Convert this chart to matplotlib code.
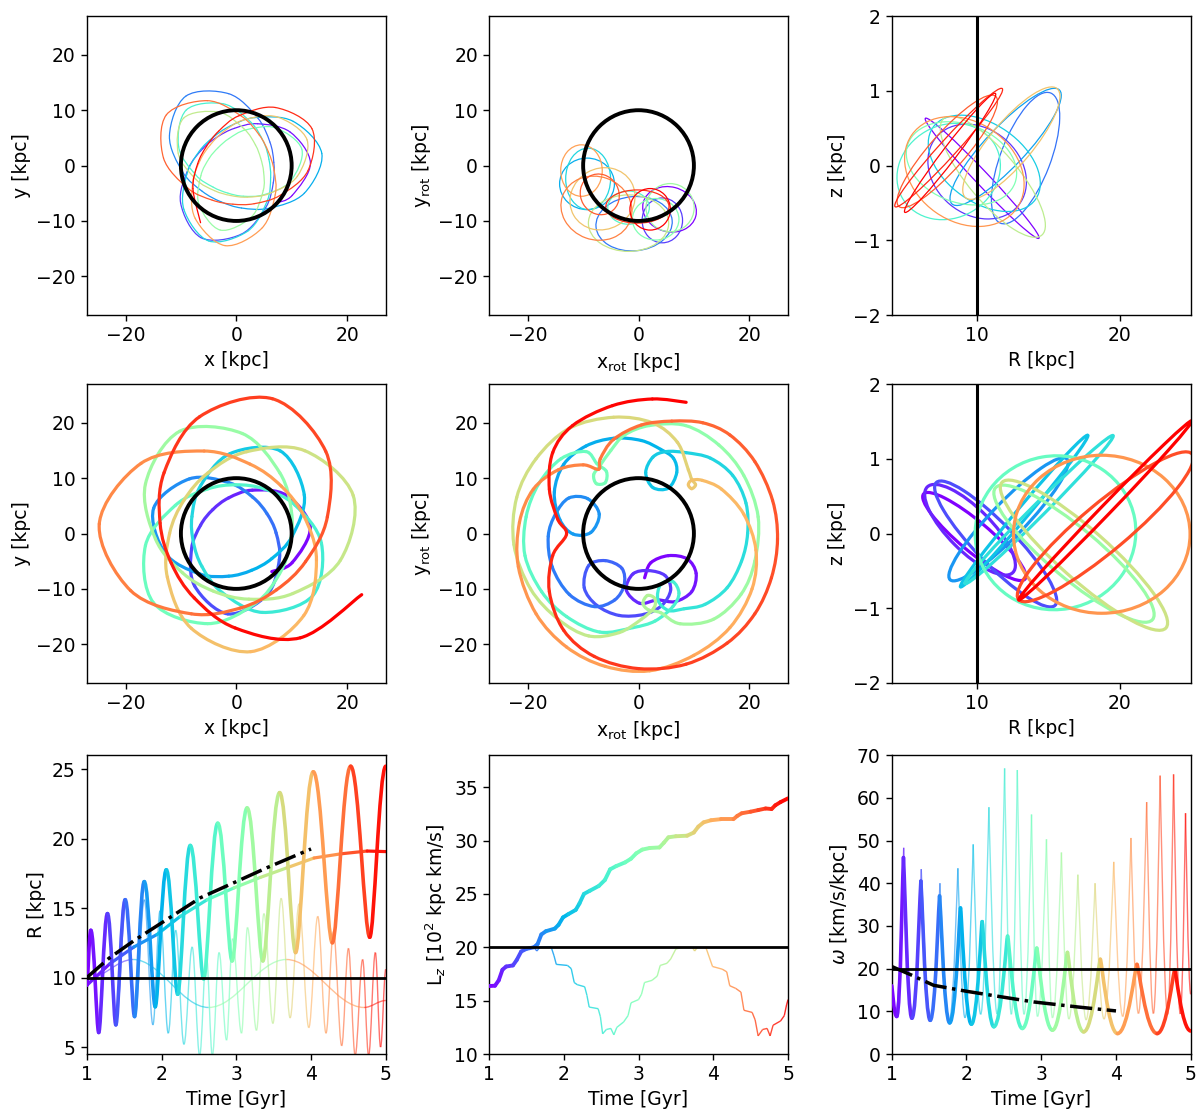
import numpy as np
import matplotlib
matplotlib.use("Agg")
import matplotlib.pyplot as plt
from matplotlib.path import Path
from matplotlib.patches import PathPatch, Ellipse, Circle
from matplotlib.collections import LineCollection
from matplotlib.transforms import Affine2D

plt.rcParams["font.family"] = "DejaVu Sans"
plt.rcParams["font.size"] = 13.5
plt.rcParams["axes.linewidth"] = 1.0
plt.rcParams["xtick.major.width"] = 1.0
plt.rcParams["ytick.major.width"] = 1.0
plt.rcParams["xtick.major.size"] = 4.5
plt.rcParams["ytick.major.size"] = 4.5

CMAP = plt.get_cmap("rainbow")

R_CR = 10.0     # corotation radius [kpc]
LZ_CR = 20.0    # [10^2 kpc km/s]
OMEGA_P = 20.0  # pattern speed [km/s/kpc]

# ---- thin orbit, inertial frame (angle [deg], R [kpc]) ----
thin_phi = [-44, -28,
            2, 32, 63, 93, 123, 153, 184, 214, 244, 274, 305, 335, 365, 395, 426, 456,
            486, 516, 547, 577, 607, 637, 668, 698, 728, 758, 789, 819, 849, 879, 910, 940,
            970, 1000, 1031, 1061, 1091, 1121, 1152, 1182, 1212, 1242, 1273, 1303,
            1333, 1363, 1394, 1424, 1454, 1484, 1515, 1545, 1575, 1605, 1636, 1666,
            1696, 1726, 1757, 1787, 1817, 1847, 1878, 1908, 1938, 1968, 1999, 2029,
            2059, 2089, 2120, 2150, 2180, 2210, 2241, 2271, 2301, 2331, 2362, 2392,
            2422, 2452, 2483, 2513, 2543, 2573, 2604, 2634, 2664, 2694, 2725, 2755,
            2785, 2815, 2846, 2876, 2906, 2936, 2967, 2997, 3027, 3057, 3088, 3118]
thin_rad = [9.8, 11.45,
            13.4, 11.45, 8.48, 6.73, 6.2, 6.77, 8.69, 12.12, 14.5, 12.44, 9.26, 7.37,
            6.8, 7.41, 9.45, 13.05, 15.5, 13.21, 9.74, 7.71, 7.1, 7.72, 9.76, 13.27,
            15.6, 13.0, 9.28, 7.21, 6.6, 7.17, 9.07, 12.34, 14.5, 12.01, 8.49, 6.56,
            6.0, 6.53, 8.31, 11.41, 13.5, 10.94, 7.51, 5.71, 5.2, 5.68, 7.29, 10.19,
            12.2, 9.82, 6.68, 5.06, 4.6, 5.06, 6.65, 9.71, 12.0, 9.71, 6.65, 5.06,
            4.6, 5.08, 6.77, 10.15, 12.8, 10.72, 7.69, 6.0, 5.5, 6.03, 7.83, 11.19,
            13.6, 11.47, 8.33, 6.53, 6.0, 6.57, 8.5, 12.07, 14.6, 12.24, 8.8, 6.87,
            6.3, 6.9, 8.97, 12.83, 15.6, 13.22, 9.66, 7.61, 7.0, 7.6, 9.59, 12.98,
            15.2, 12.65, 9.01, 6.99, 6.4, 6.97, 8.86, 12.17]

# ---- thick orbit, inertial frame ----
thick_phi = [-47, -27.4,
             5, 37.4, 69.8, 102.1, 134.5, 166.9, 199.3, 231.6, 264, 296.4, 328.8, 361.1,
             393.5, 425.9, 458.3, 490.6, 523, 555.4, 587.8, 620.1, 652.5, 684.9, 717.3,
             749.6, 782, 814.4, 846.8, 879.1, 911.5, 943.9, 976.3, 1008.6, 1041, 1073.4,
             1105.8, 1138.1, 1170.5, 1202.9, 1235.3, 1267.6, 1300, 1332.4, 1364.8, 1397.1,
             1429.5, 1461.9, 1494.3, 1526.6, 1559, 1591.4, 1623.8, 1656.1, 1688.5, 1720.9,
             1753.3, 1785.6, 1818, 1850.4, 1882.8, 1915.1, 1947.5, 1979.9, 2012.3, 2044.6,
             2077, 2109.4, 2141.8, 2174.1, 2206.5, 2238.9, 2271.3, 2303.6, 2336, 2368.4,
             2400.8, 2433.1, 2465.5, 2497.9, 2530.3, 2562.6, 2595, 2627.4, 2659.8, 2692.1,
             2724.5, 2756.9, 2789.3, 2821.6, 2854]
thick_rad = [9.4, 11.38,
             13.4, 11.38, 8.34, 6.58, 6.05, 6.62, 8.56, 12.1, 14.6, 12.4, 9.09, 7.18,
             6.6, 7.21, 9.28, 13.0, 15.6, 13.32, 9.85, 7.82, 7.2, 7.86, 10.1, 14.12,
             16.9, 14.48, 10.77, 8.57, 7.9, 8.6, 10.94, 15.04, 17.8, 15.48, 11.78, 9.5,
             8.8, 9.57, 12.13, 16.55, 19.5, 17.08, 13.13, 10.67, 9.9, 10.73, 13.48, 18.1,
             21.1, 18.68, 14.63, 12.03, 11.2, 12.08, 14.89, 19.41, 22.2, 19.41, 14.89, 12.08,
             11.2, 12.04, 14.73, 18.95, 21.5, 19.19, 15.24, 12.63, 11.8, 12.78, 15.99, 21.36,
             24.8, 21.68, 16.62, 13.48, 12.5, 13.5, 16.71, 21.94, 25.2, 22.11, 17.06, 13.89,
             12.9, 13.89, 17.06, 22.11, 25.2]

# ---- thick orbit, rotating frame [kpc] ----
rot_x = [1.1, 2.2, 5.4, 8.8, 10.4, 9.6, 6.6, 3.4,
         0.2, -2.2, -1.0, 1.8, 4.8, 5.8, 4.2, 1.0,
         -3.5, -7.5, -9.8, -9.0, -6.0, -3.0, -2.6, -4.3,
         -8.0, -12.5, -15.6, -16.3,
         -15.0, -12.6, -9.2, -7.1, -8.6, -11.8, -14.2,
         -15.2, -13.5, -9.5, -4.5, 0.5, 4.0,
         6.3, 6.9, 5.4, 2.6, 1.3, 2.6,
         5.0, 8.6, 13.0, 17.0, 19.4, 19.7, 18.6, 16.0, 12.0, 8.2,
         5.4, 3.5, 4.0, 6.2, 7.3, 6.2,
         3.0, -1.0, -7.0, -13.0, -17.5, -20.5, -20.3, -18.0, -14.0, -9.5,
         -7.5, -5.8, -6.0, -7.6, -8.1, -7.0,
         -5.0, -2.5, 2.0, 8.5, 14.5, 19.0, 21.6, 21.0, 18.5, 13.5, 7.5, 4.0,
         1.8, 0.8, 1.6, 2.9, 2.8,
         0.5, -3.5, -9.0, -14.5, -19.5, -22.5, -22.0, -18.5, -12.5, -4.5, 2.5, 7.0, 9.0,
         9.6, 10.3, 9.6, 9.0, 9.6,
         11.5, 15.0, 19.0, 21.2, 20.5, 16.5, 10.0, 2.0, -6.0, -13.0, -18.5, -21.7, -21.5,
         -19.0, -14.5, -10.0, -7.2,
         -6.9, -4.5, 0.5, 6.0, 11.6, 16.5, 21.0, 24.2, 25.1, 24.0, 21.0, 16.0, 8.6, 0.0,
         -8.0, -13.5, -16.1, -15.5, -13.0,
         -14.6, -16.1, -15.5, -11.9, -4.7, 2.5, 8.6]
rot_y = [-8.0, -5.3, -4.0, -4.6, -7.2, -10.5, -12.3, -12.0,
         -12.6, -10.2, -7.3, -6.7, -7.6, -10.2, -13.0, -14.6,
         -14.8, -13.0, -9.8, -5.8, -4.9, -6.3, -9.3, -12.0,
         -13.2, -11.0, -6.0, -0.5,
         3.5, 6.4, 6.3, 3.5, 0.2, -0.1, 2.5,
         7.5, 12.5, 15.8, 17.2, 16.8, 15.2,
         13.6, 11.0, 8.2, 8.3, 11.0, 13.8,
         14.8, 14.6, 13.6, 10.5, 5.5, 0.0, -5.0, -9.8, -12.8, -13.6,
         -13.9, -12.0, -9.2, -8.7, -10.8, -13.2,
         -15.8, -17.0, -17.8, -15.0, -10.5, -4.0, 3.0, 9.0, 13.5, 14.8,
         12.6, 11.2, 9.2, 9.0, 10.6, 12.2,
         15.0, 17.8, 19.5, 19.5, 16.0, 10.5, 3.0, -5.0, -11.0, -15.5, -16.3, -14.3,
         -13.8, -12.6, -11.2, -11.7, -13.4,
         -15.5, -17.9, -18.5, -15.5, -10.0, -2.0, 6.5, 13.5, 19.0, 21.0, 20.0, 16.5, 11.5,
         9.8, 8.8, 8.1, 8.8, 9.6,
         9.6, 8.0, 3.5, -3.0, -10.0, -17.0, -22.0, -24.8, -24.0, -20.5, -14.5, -6.0, 2.0,
         8.0, 11.5, 12.4, 11.6,
         13.5, 17.0, 19.6, 20.3, 20.0, 17.8, 13.0, 6.0, -1.0, -8.0, -14.5, -19.8, -23.6, -24.4,
         -22.2, -17.5, -10.5, -4.0, -0.1,
         2.6, 8.0, 14.6, 19.5, 23.1, 24.3, 23.7]

# ---- thin orbit, rotating frame: epicycle loops (centre, size, tilt, time fraction) ----
trot_cx = [5.6, 4.3, -0.8, -9.3, -9.1, -1.8, 3.1, 5.7, -1.8, -6.5, -10.3, -7.6, -7.0, -0.2, 2.1]
trot_cy = [-7.9, -9.9, -10.5, -3.3, -2.4, -7.6, -9.7, -7.6, -10.4, -6.0, -0.9, -7.7, -5.2, -7.4, -7.9]
trot_w = [9.8, 7.3, 13.8, 9.9, 8.1, 7.5, 8.4, 8.7, 14.5, 12.0, 7.5, 13.0, 6.9, 11.4, 7.3]
trot_h = [8.1, 8.1, 9.8, 9.3, 11.1, 6.0, 7.5, 8.7, 10.2, 11.0, 9.3, 11.4, 7.5, 6.0, 7.5]
trot_ang = [-15, 0, 5, 0, 0, 0, 0, 0, 0, 30, 0, -20, 30, 0, 0]
trot_f = [0.0, 0.08, 0.16, 0.24, 0.32, 0.42, 0.5, 0.56, 0.64, 0.72, 0.78, 0.83, 0.88, 0.93, 1.0]

# ---- meridional loops (R centre, z centre, size in R-kpc as seen on the panel, tilt, time) ----
trz_R = [10.35, 10.0, 13.4, 12.0, 10.5, 8.0, 8.9, 11.1, 12.4, 9.1, 7.9, 8.0, 8.1]
trz_z = [-0.17, -0.08, 0.1, 0.25, 0.03, -0.08, 0.03, -0.15, 0.3, -0.08, 0.19, 0.24, 0.17]
trz_w = [11.6, 7.5, 9.8, 11.0, 8.8, 7.5, 8.0, 10.7, 10.0, 9.0, 10.3, 11.2, 10.5]
trz_h = [0.95, 6.0, 3.5, 2.8, 5.5, 6.5, 5.5, 3.5, 3.0, 7.0, 2.5, 1.2, 1.0]
trz_ang = [-46.6, -40, 69, 46.7, -35, 30, -20, -50, 50, -35, 48.7, 47.8, 52.7]
trz_f = [0.0, 0.07, 0.15, 0.22, 0.3, 0.4, 0.5, 0.62, 0.72, 0.8, 0.88, 0.95, 1.0]

krz_R = [9.8, 9.5, 11.3, 12.2, 13.3, 14.35, 15.5, 16.8, 17.5, 18.75, 19.0, 19.0]
krz_z = [-0.04, 0.05, -0.14, 0.19, 0.3, 0.32, 0.01, -0.27, -0.29, -0.01, 0.09, 0.31]
krz_w = [9.3, 8.5, 12.0, 11.8, 13.9, 14.7, 11.3, 14.4, 15.4, 12.4, 15.9, 17.5]
krz_h = [2.1, 3.0, 2.8, 2.4, 0.8, 0.9, 10.8, 3.5, 3.5, 11.1, 3.3, 0.7]
krz_ang = [-40, -45, -46, 46, 50, 45, 10, -40, -41.6, 0, 40, 46]
krz_f = [0.0, 0.05, 0.1, 0.2, 0.28, 0.34, 0.45, 0.55, 0.65, 0.8, 0.9, 1.0]

# ---- R(t): extrema [Gyr, kpc] ----
thick_rt = [1.0, 1.054, 1.16, 1.277, 1.389, 1.514, 1.639, 1.769, 1.916, 2.064, 2.216, 2.385,
            2.564, 2.752, 2.944, 3.145, 3.355, 3.58, 3.793, 4.03, 4.285, 4.53, 4.785, 5.0]
thick_rv = [9.44, 13.4, 6.05, 14.6, 6.6, 15.6, 7.2, 16.9, 7.9, 17.75, 8.8, 19.5,
            9.9, 21.1, 11.2, 22.2, 11.2, 23.3, 11.8, 24.8, 12.5, 25.2, 12.9, 25.2]
thin_t = [1.0, 1.05, 1.16, 1.28, 1.395, 1.52, 1.645, 1.77, 1.885, 1.98, 2.09, 2.19, 2.3, 2.41,
          2.51, 2.6, 2.68, 2.77, 2.87, 2.95, 3.07, 3.15, 3.27, 3.37, 3.49, 3.6, 3.72, 3.84,
          3.97, 4.09, 4.2, 4.3, 4.41, 4.5, 4.59, 4.69, 4.77, 4.86, 4.93, 5.0]
thin_rv = [9.8, 13.3, 6.2, 14.3, 6.8, 15.3, 7.1, 15.6, 6.6, 14.8, 6.0, 13.4, 5.2, 12.2,
           4.4, 11.6, 4.4, 11.8, 5.5, 12.8, 6.0, 13.6, 6.2, 14.6, 6.7, 15.7, 7.1, 15.3,
           6.4, 14.4, 6.0, 13.3, 5.1, 12.1, 4.4, 11.3, 4.4, 11.8, 5.0, 10.6]
thick_gt = [1.0, 1.31, 1.63, 1.94, 2.25, 2.61, 2.97, 3.32, 3.68, 4.04, 4.4, 4.75, 5.0]
thick_gv = [9.44, 11.0, 12.2, 13.1, 14.4, 15.6, 16.45, 17.2, 17.9, 18.6, 18.9, 19.1, 19.06]
thin_gt = [1.0, 1.62, 2.63, 3.67, 4.71, 5.0]
thin_gv = [9.9, 11.3, 7.85, 11.3, 7.85, 8.35]
dash_rt = [1.0, 1.3, 1.63, 2.0, 2.52, 3.0, 3.41, 4.0]
dash_rv = [10.0, 11.4, 12.65, 13.93, 15.74, 16.9, 17.9, 19.25]

# ---- L_z(t) [10^2 kpc km/s] ----
thick_lt = [1.0, 1.08, 1.13, 1.18, 1.23, 1.32, 1.37, 1.43, 1.5, 1.6, 1.65, 1.7, 1.76, 1.88,
            1.93, 1.99, 2.06, 2.16, 2.21, 2.27, 2.35, 2.47, 2.55, 2.62, 2.7, 2.82, 2.9, 2.97,
            3.05, 3.15, 3.28, 3.34, 3.4, 3.5, 3.65, 3.74, 3.8, 3.87, 3.97, 4.1, 4.27, 4.32,
            4.38, 4.5, 4.6, 4.7, 4.78, 4.83, 4.9, 5.0]
thick_lv = [16.37, 16.4, 16.9, 17.9, 18.2, 18.3, 18.8, 19.6, 19.85, 20.0, 20.3, 21.2, 21.5, 21.75,
            22.1, 22.8, 23.1, 23.5, 24.1, 25.0, 25.3, 25.75, 26.3, 27.3, 27.6, 27.95, 28.3, 28.8,
            29.15, 29.3, 29.35, 29.8, 30.3, 30.4, 30.45, 30.75, 31.3, 31.7, 31.9, 32.0, 32.0, 32.3,
            32.55, 32.7, 32.85, 33.0, 32.95, 33.3, 33.6, 33.95]
thin_lt = [1.0, 1.08, 1.13, 1.18, 1.23, 1.32, 1.37, 1.43, 1.5, 1.6, 1.64, 1.68, 1.83, 1.87,
           1.9, 2.05, 2.1, 2.14, 2.18, 2.28, 2.31, 2.34, 2.46, 2.49, 2.52, 2.57, 2.63, 2.67,
           2.71, 2.8, 2.86, 2.9, 3.0, 3.04, 3.08, 3.18, 3.25, 3.29, 3.38, 3.43, 3.5, 3.6,
           3.72, 3.75, 3.79, 3.9, 3.95, 3.99, 4.12, 4.18, 4.22, 4.3, 4.37, 4.41, 4.52, 4.56,
           4.6, 4.66, 4.72, 4.76, 4.8, 4.9, 4.95, 4.98, 5.0]
thin_lv = [16.37, 16.4, 16.9, 17.9, 18.2, 18.3, 18.8, 19.6, 19.85, 20.0, 19.65, 20.0, 20.05, 19.2,
           18.4, 18.3, 18.0, 16.7, 16.5, 16.3, 15.5, 14.4, 14.25, 13.5, 11.9, 12.3, 12.4, 11.8,
           12.5, 13.0, 13.6, 14.8, 15.1, 15.6, 16.7, 16.9, 17.3, 18.3, 18.5, 18.9, 19.85, 20.0,
           20.0, 19.65, 20.0, 20.0, 19.0, 18.2, 17.95, 17.7, 16.4, 16.15, 15.8, 14.1, 13.9, 13.2,
           11.7, 12.3, 12.4, 11.7, 12.7, 13.1, 13.6, 14.6, 15.1]

# ---- omega(t) extrema [km/s/kpc] ----
thick_wt = [1.0, 1.067, 1.157, 1.27, 1.39, 1.515, 1.64, 1.775, 1.92, 2.066, 2.21, 2.366,
            2.55, 2.747, 2.94, 3.15, 3.35, 3.567, 3.79, 4.02, 4.28, 4.55, 4.785, 5.0]
thick_wv = [16.0, 8.8, 46.0, 8.4, 40.5, 7.9, 37.0, 7.3, 34.2, 7.0, 31.0, 6.4,
            27.6, 6.0, 24.8, 5.6, 23.8, 5.2, 22.2, 4.8, 21.0, 4.8, 19.7, 5.4]
thin_wv = [16.0, 9.0, 48.3, 8.8, 43.3, 8.2, 40.0, 7.8, 43.5, 8.5, 49.1, 9.3, 57.8, 9.4,
           66.9, 9.3, 66.5, 9.3, 56.1, 8.8, 50.3, 8.5, 47.2, 8.2, 42.0, 8.0, 40.0, 8.2,
           45.0, 8.8, 50.6, 9.5, 59.0, 9.5, 65.2, 9.3, 65.5, 9.4, 56.4, 14.0]
dash_wt = [1.0, 1.25, 1.56, 2.0, 2.5, 2.9, 3.5, 4.0]
dash_wv = [20.5, 18.6, 16.1, 14.7, 13.3, 12.2, 11.0, 10.1]


def bezier_piece(ax, pts, color, lw, alpha, z, cap):
    path = Path(pts, [Path.MOVETO, Path.CURVE4, Path.CURVE4, Path.CURVE4])
    ax.add_patch(PathPatch(path, fill=False, ec=color, lw=lw, alpha=alpha,
                           zorder=z, capstyle=cap, joinstyle="round"))


def smooth_orbit(ax, x, y, lw, z=2):
    # catmull-rom through the listed points, one coloured piece per step
    p = np.column_stack([x, y]).astype(float)
    q = np.vstack([p[0], p, p[-1]])
    n = len(p)
    for i in range(n - 1):
        p0, p1, p2, p3 = q[i], q[i + 1], q[i + 2], q[i + 3]
        ctrl = [p1, p1 + (p2 - p0) / 6.0, p2 - (p3 - p1) / 6.0, p2]
        bezier_piece(ax, ctrl, CMAP(i / (n - 2)), lw, 1.0, z, "round")


def polar_orbit(ax, phi, rad, lw):
    a = np.radians(phi)
    r = np.asarray(rad)
    smooth_orbit(ax, r * np.cos(a), r * np.sin(a), lw)


def wave(ax, t, v, lw, alpha=1.0, k_top=0.36, k_bot=0.36, z=2):
    # extrema joined with flat tangents
    for i in range(len(t) - 1):
        t0, t1, v0, v1 = t[i], t[i + 1], v[i], v[i + 1]
        dt = t1 - t0
        k0 = k_top if v0 > v1 else k_bot
        k1 = k_top if v1 > v0 else k_bot
        ctrl = [(t0, v0), (t0 + k0 * dt, v0), (t1 - k1 * dt, v1), (t1, v1)]
        col = CMAP((0.5 * (t0 + t1) - 1) / 4)
        bezier_piece(ax, ctrl, col, lw, alpha, z, "butt" if alpha < 1 else "round")


def colour_line(ax, t, v, lw, alpha=1.0, z=2):
    pts = np.column_stack([t, v])
    segs = np.stack([pts[:-1], pts[1:]], axis=1)
    mid = 0.5 * (pts[:-1, 0] + pts[1:, 0])
    lc = LineCollection(segs, colors=CMAP((mid - 1) / 4), linewidths=lw, alpha=alpha,
                        zorder=z, capstyle="butt" if alpha < 1 else "round")
    ax.add_collection(lc)


def loops(ax, cx, cy, w, h, ang, frac, lw, zscale=1.0):
    tr = Affine2D().scale(1.0, 1.0 / zscale) + ax.transData
    for x, y, a, b, t, f in zip(cx, cy, w, h, ang, frac):
        ax.add_patch(Ellipse((x, y * zscale), a, b, angle=t, transform=tr,
                             fill=False, ec=CMAP(f), lw=lw, zorder=2))


def frame(ax, xlim, ylim, xticks, yticks, xlabel, ylabel):
    ax.set_xlim(*xlim)
    ax.set_ylim(*ylim)
    ax.set_xticks(xticks)
    ax.set_yticks(yticks)
    ax.set_xlabel(xlabel)
    ax.set_ylabel(ylabel)


fig = plt.figure(figsize=(12, 11.18), dpi=100)
lefts = [0.0723, 0.4075, 0.7431]
bottoms = [0.7182, 0.3891, 0.0572]
W, H = 0.2492, 0.2674
axs = [[fig.add_axes([l, b, W, H]) for l in lefts] for b in bottoms]

TH, TK = 0.9, 2.3
LIM = (-27, 27)
TK_XY = [-20, 0, 20]
TK_Y = [-20, -10, 0, 10, 20]
RZ_SCALE = 21.0 / 4.0  # R-kpc per z-kpc on the square meridional panels

# row 1: thin orbit
ax = axs[0][0]
polar_orbit(ax, thin_phi, thin_rad, TH)
ax.add_patch(Circle((0, 0), R_CR, fill=False, ec="black", lw=2.8, zorder=5))
frame(ax, LIM, LIM, TK_XY, TK_Y, "x [kpc]", "y [kpc]")

ax = axs[0][1]
loops(ax, trot_cx, trot_cy, trot_w, trot_h, trot_ang, trot_f, TH)
ax.add_patch(Circle((0, 0), R_CR, fill=False, ec="black", lw=2.8, zorder=5))
frame(ax, LIM, LIM, TK_XY, TK_Y, r"x$_{\rm rot}$ [kpc]", r"y$_{\rm rot}$ [kpc]")

ax = axs[0][2]
loops(ax, trz_R, trz_z, trz_w, trz_h, trz_ang, trz_f, TH, RZ_SCALE)
ax.axvline(R_CR, color="black", lw=2.2, zorder=5)
frame(ax, (4, 25), (-2, 2), [10, 20], [-2, -1, 0, 1, 2], "R [kpc]", "z [kpc]")

# row 2: thick orbit
ax = axs[1][0]
polar_orbit(ax, thick_phi, thick_rad, TK)
ax.add_patch(Circle((0, 0), R_CR, fill=False, ec="black", lw=2.8, zorder=5))
frame(ax, LIM, LIM, TK_XY, TK_Y, "x [kpc]", "y [kpc]")

ax = axs[1][1]
smooth_orbit(ax, rot_x, rot_y, TK)
ax.add_patch(Circle((0, 0), R_CR, fill=False, ec="black", lw=2.8, zorder=5))
frame(ax, LIM, LIM, TK_XY, TK_Y, r"x$_{\rm rot}$ [kpc]", r"y$_{\rm rot}$ [kpc]")

ax = axs[1][2]
loops(ax, krz_R, krz_z, krz_w, krz_h, krz_ang, krz_f, TK, RZ_SCALE)
ax.axvline(R_CR, color="black", lw=2.2, zorder=5)
frame(ax, (4, 25), (-2, 2), [10, 20], [-2, -1, 0, 1, 2], "R [kpc]", "z [kpc]")

# row 3: time series
ax = axs[2][0]
wave(ax, thin_t, thin_rv, 1.0, alpha=0.6, z=1.5)
wave(ax, thin_gt, thin_gv, 1.0, alpha=0.6, z=1.5)
colour_line(ax, thick_gt, thick_gv, 2.3, z=2)
wave(ax, thick_rt, thick_rv, 2.6, k_top=0.42, k_bot=0.28, z=3)
ax.axhline(R_CR, color="black", lw=2.0, zorder=4)
ax.plot(dash_rt, dash_rv, color="black", lw=2.5, ls="-.", zorder=5)
frame(ax, (1, 5), (4.5, 26), [1, 2, 3, 4, 5], [5, 10, 15, 20, 25], "Time [Gyr]", "R [kpc]")

ax = axs[2][1]
colour_line(ax, thin_lt, thin_lv, 1.0, alpha=0.85, z=1.5)
colour_line(ax, thick_lt, thick_lv, 2.8, z=3)
ax.axhline(LZ_CR, color="black", lw=2.0, zorder=4)
frame(ax, (1, 5), (10, 38), [1, 2, 3, 4, 5], [10, 15, 20, 25, 30, 35], "Time [Gyr]",
      r"L$_z$ [10$^2$ kpc km/s]")

ax = axs[2][2]
wave(ax, thin_t, thin_wv, 1.0, alpha=0.6, k_top=0.03, k_bot=0.5, z=1.5)
wave(ax, thick_wt, thick_wv, 2.6, k_top=0.08, k_bot=0.55, z=3)
ax.axhline(OMEGA_P, color="black", lw=2.0, zorder=4)
ax.plot(dash_wt, dash_wv, color="black", lw=2.5, ls="-.", zorder=5)
frame(ax, (1, 5), (0, 70), [1, 2, 3, 4, 5], [0, 10, 20, 30, 40, 50, 60, 70], "Time [Gyr]",
      r"$\omega$ [km/s/kpc]")

fig.savefig("out.png", dpi=100)
